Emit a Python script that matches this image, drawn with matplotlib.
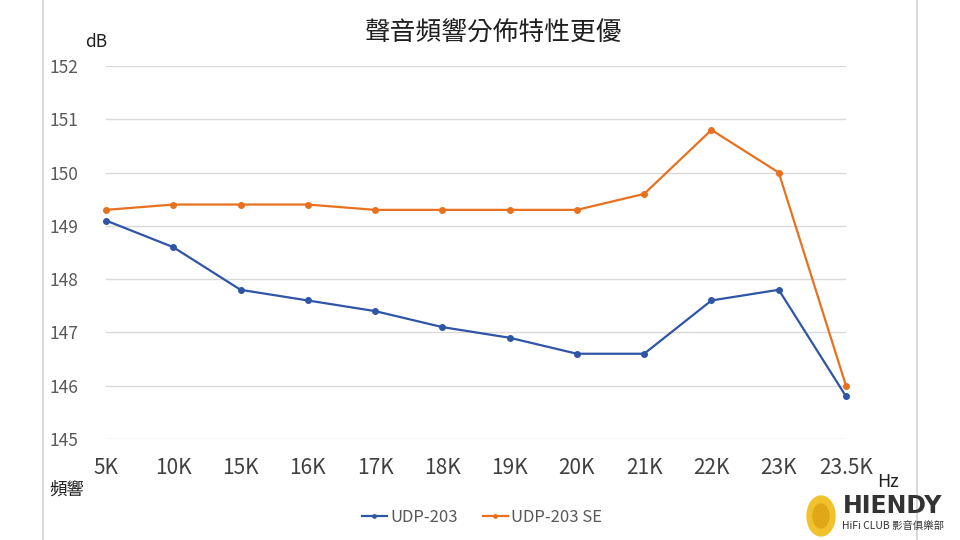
import matplotlib
matplotlib.use("Agg")
import matplotlib.pyplot as plt
from matplotlib.lines import Line2D
from matplotlib.patches import Ellipse

plt.rcParams['font.family'] = ['Noto Sans CJK TC', 'DejaVu Sans']

freqs = ['5K', '10K', '15K', '16K', '17K', '18K', '19K', '20K', '21K', '22K', '23K', '23.5K']
udp203 = [149.1, 148.6, 147.8, 147.6, 147.4, 147.1, 146.9, 146.6, 146.6, 147.6, 147.8, 145.8]
udp203_se = [149.3, 149.4, 149.4, 149.4, 149.3, 149.3, 149.3, 149.3, 149.6, 150.8, 150.0, 146.0]
yticks = [145, 146, 147, 148, 149, 150, 151, 152]

blue = '#2f55a6'
orange = '#e8711f'
gray = '#595959'

fig = plt.figure(figsize=(9.6, 5.4), dpi=100)
ax = fig.add_axes([106 / 960, 1 - 439 / 540, 740 / 960, 373 / 540])

x = list(range(len(freqs)))
ax.plot(x, udp203, color=blue, lw=1.6, marker='o', ms=4, label='UDP-203', clip_on=False)
ax.plot(x, udp203_se, color=orange, lw=1.6, marker='o', ms=4, label='UDP-203 SE', clip_on=False)

ax.set_xlim(0, len(freqs) - 1)
ax.set_ylim(145, 152)
ax.set_yticks(yticks)
ax.set_xticks(x)
ax.set_xticklabels(freqs)
ax.grid(axis='y', color='#d9d9d9', lw=1)
ax.set_axisbelow(True)
for s in ax.spines.values():
    s.set_visible(False)
ax.tick_params(axis='y', length=0, pad=20, labelsize=12.5, labelcolor=gray)
ax.tick_params(axis='x', length=0, pad=13, labelsize=15, labelcolor='#404040')

fig.text(494 / 960, 1 - 33 / 540, '聲音頻響分佈特性更優', ha='center', va='center',
         fontsize=18.5, color='#202020')
fig.text(96 / 960, 1 - 42 / 540, 'dB', ha='center', va='center', fontsize=12.5, color='#202020')
fig.text(67 / 960, 1 - 490 / 540, '頻響', ha='center', va='center', fontsize=12.5, color='#202020')
fig.text(888 / 960, 1 - 482 / 540, 'Hz', ha='center', va='center', fontsize=13, color='#202020')

# panel borders
fig.add_artist(Line2D([43 / 960, 43 / 960], [0, 1], color='#d9d9d9', lw=1.5))
fig.add_artist(Line2D([917 / 960, 917 / 960], [0, 1], color='#d9d9d9', lw=1.5))

fig.legend(loc='center', bbox_to_anchor=(482 / 960, 1 - 517 / 540), ncol=2, frameon=False,
           fontsize=12, labelcolor=gray, handlelength=1.5, handletextpad=0.2,
           columnspacing=1.5, markerscale=0.6)

# logo
fig.add_artist(Ellipse((821 / 960, 1 - 516 / 540), 28 / 960, 40 / 540, color='#f2c12e'))
fig.add_artist(Ellipse((821 / 960, 1 - 516 / 540), 16 / 960, 24 / 540, color='#e0a818'))
fig.text(893 / 960, 1 - 506 / 540, 'HIENDY', ha='center', va='center', fontsize=17,
         fontweight='bold', color='#333333', family='DejaVu Sans')
fig.text(893 / 960, 1 - 526 / 540, 'HiFi CLUB 影音俱樂部', ha='center', va='center',
         fontsize=7.5, color='#333333')

fig.savefig('out.png', dpi=100)
